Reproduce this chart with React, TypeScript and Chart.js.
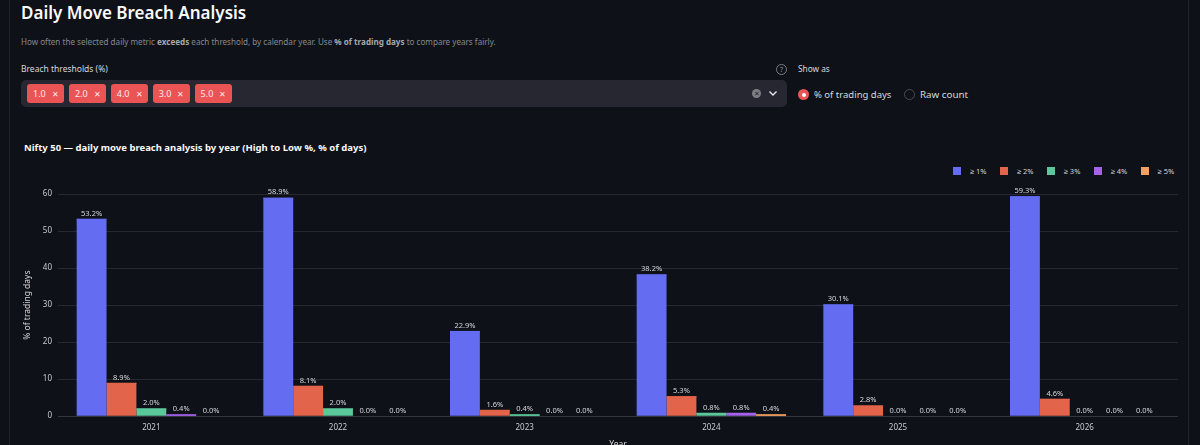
import { useEffect, useRef, CSSProperties } from 'react';
import { Chart, registerables } from 'chart.js';

Chart.register(...registerables);

const years = ['2021', '2022', '2023', '2024', '2025', '2026'];
const thresholdLabels = ['≥ 1%', '≥ 2%', '≥ 3%', '≥ 4%', '≥ 5%'];
const colors = ['#646cf2', '#e2644a', '#5bc89b', '#a463ea', '#f2a060'];

const breach1 = [53.2, 58.9, 22.9, 38.2, 30.1, 59.3];
const breach2 = [8.9, 8.1, 1.6, 5.3, 2.8, 4.6];
const breach3 = [2.0, 2.0, 0.4, 0.8, 0.0, 0.0];
const breach4 = [0.4, 0.0, 0.0, 0.8, 0.0, 0.0];
const breach5 = [0.0, 0.0, 0.0, 0.4, 0.0, 0.0];
const yTicks = [0, 10, 20, 30, 40, 50, 60];

const chips = ['1.0', '2.0', '4.0', '3.0', '5.0'];

const FONT = '"Noto Sans", sans-serif';

// bar value labels, plus a thin top edge so the very small bars stay visible
const valueLabels = {
  id: 'valueLabels',
  afterDatasetsDraw(chart: any) {
    const { ctx } = chart;
    ctx.save();
    ctx.font = `7.5px ${FONT}`;
    ctx.textAlign = 'center';
    ctx.textBaseline = 'bottom';
    chart.data.datasets.forEach((ds: any, i: number) => {
      chart.getDatasetMeta(i).data.forEach((bar: any, j: number) => {
        if (ds.data[j] > 0) {
          ctx.fillStyle = ds.backgroundColor;
          ctx.fillRect(bar.x - bar.width / 2, bar.y - 0.5, bar.width, 1.5);
        }
        ctx.fillStyle = '#d5d6da';
        ctx.fillText(ds.data[j].toFixed(1) + '%', bar.x, bar.y - 2);
      });
    });
    ctx.restore();
  },
};

function abs(left: number, top: number, extra: CSSProperties = {}): CSSProperties {
  return { position: 'absolute', left, top, whiteSpace: 'nowrap', ...extra };
}

export default function App() {
  const chartRef = useRef<HTMLCanvasElement>(null);

  useEffect(() => {
    if (!chartRef.current) return;
    const series = [breach1, breach2, breach3, breach4, breach5];
    const chart = new Chart(chartRef.current, {
      type: 'bar',
      data: {
        labels: years,
        datasets: series.map((data, i) => ({
          label: thresholdLabels[i],
          data,
          backgroundColor: colors[i],
          borderWidth: 0,
          categoryPercentage: 0.8,
          barPercentage: 1,
        })),
      },
      options: {
        responsive: false,
        animation: false,
        layout: { padding: { top: 30, right: 22, bottom: 0, left: 22 } },
        plugins: {
          title: { display: false },
          tooltip: { enabled: false },
          legend: { display: false },
        },
        scales: {
          x: {
            grid: { display: false, drawTicks: false, tickLength: 0 },
            border: { display: false },
            ticks: { color: '#c9cbd0', font: { family: FONT, size: 8 }, padding: 7, maxRotation: 0 },
            title: { display: true, text: 'Year', color: '#d5d6da', font: { family: FONT, size: 8.5 }, padding: { top: 0, bottom: 0 } },
          },
          y: {
            min: 0,
            max: 60,
            afterBuildTicks: (axis: any) => {
              axis.ticks = yTicks.map((value) => ({ value }));
            },
            grid: {
              color: (c: any) => (c.tick && c.tick.value === 0 ? '#34373e' : '#262930'),
              lineWidth: 1,
              drawTicks: false,
            },
            border: { display: false },
            ticks: { color: '#c9cbd0', font: { family: FONT, size: 8 }, padding: 6 },
            title: { display: true, text: '% of trading days', color: '#d5d6da', font: { family: FONT, size: 8.5 }, padding: { top: 0, bottom: 0 } },
            afterFit: (axis: any) => {
              axis.width = 36;
            },
          },
        },
      },
      plugins: [valueLabels],
    });
    return () => chart.destroy();
  }, []);

  return (
    <div style={{ position: 'fixed', inset: 0, background: '#0e1117', overflow: 'hidden', fontFamily: FONT, color: '#fafafa' }}>
      <div style={abs(9, 0, { width: 1, height: 445, background: '#1f2228' })} />
      <div style={abs(1188, 0, { width: 1, height: 445, background: '#1f2228' })} />

      <div style={abs(21, -2, { fontSize: 17, fontWeight: 600, lineHeight: '30px' })}>Daily Move Breach Analysis</div>
      <div style={abs(21, 35, { fontSize: 8.1, lineHeight: '14px', color: '#85888f' })}>
        How often the selected daily metric <b style={{ color: '#a6a8ad' }}>exceeds</b> each threshold, by calendar year. Use{' '}
        <b style={{ color: '#a6a8ad' }}>% of trading days</b> to compare years fairly.
      </div>

      <div style={abs(21, 62, { fontSize: 8.5, lineHeight: '14px', color: '#d8d9dc' })}>Breach thresholds (%)</div>
      <div style={abs(21, 80, { width: 766, height: 27, background: '#262730', borderRadius: 5 })} />
      {chips.map((c, i) => (
        <div
          key={c}
          style={abs(27 + i * 41.9, 84, {
            width: 37,
            height: 19,
            background: '#ea5455',
            borderRadius: 3,
            fontSize: 9,
            lineHeight: '19px',
            paddingLeft: 6,
            boxSizing: 'border-box',
            color: '#ffe9e9',
          })}
        >
          {c}
          <span style={{ marginLeft: 6, fontSize: 8 }}>✕</span>
        </div>
      ))}
      <div style={abs(752, 89, { width: 9, height: 9, borderRadius: '50%', background: '#7d7f87', color: '#262730', fontSize: 7, lineHeight: '9px', textAlign: 'center' })}>✕</div>
      <svg style={abs(768, 90)} width="10" height="7">
        <path d="M1.5 1.5 L5 5 L8.5 1.5" stroke="#e8e8ea" strokeWidth="1.4" fill="none" />
      </svg>

      <div style={abs(776, 64, { width: 9, height: 9, border: '1px solid #7a7c82', borderRadius: '50%', fontSize: 7, lineHeight: '9px', textAlign: 'center', color: '#8f9197' })}>?</div>
      <div style={abs(798, 62, { fontSize: 8.3, lineHeight: '14px', color: '#d8d9dc' })}>Show as</div>

      <div style={abs(798, 89, { width: 11, height: 11, borderRadius: '50%', background: '#ea5455' })} />
      <div style={abs(801.5, 92.5, { width: 4, height: 4, borderRadius: '50%', background: '#fff' })} />
      <div style={abs(814, 87, { fontSize: 9.5, lineHeight: '15px', color: '#d8d9dc' })}>% of trading days</div>
      <div style={abs(904, 89, { width: 9, height: 9, borderRadius: '50%', border: '1px solid #4a4c53', background: '#0e1117' })} />
      <div style={abs(920, 87, { fontSize: 9.8, lineHeight: '15px', color: '#d8d9dc' })}>Raw count</div>

      <div style={abs(24, 140, { fontSize: 9.5, fontWeight: 700, lineHeight: '15px' })}>
        Nifty 50 — daily move breach analysis by year (High to Low %, % of days)
      </div>

      {thresholdLabels.map((l, i) => (
        <div key={l} style={abs(953 + i * 46.9, 167, { display: 'flex', alignItems: 'center', height: 8 })}>
          <span style={{ width: 8, height: 8, background: colors[i], display: 'inline-block' }} />
          <span style={{ marginLeft: 9, fontSize: 7.5, color: '#d5d6da' }}>{l}</span>
        </div>
      ))}

      <canvas ref={chartRef} width={1200} height={286} style={abs(0, 164, { display: 'block' })} />
    </div>
  );
}
